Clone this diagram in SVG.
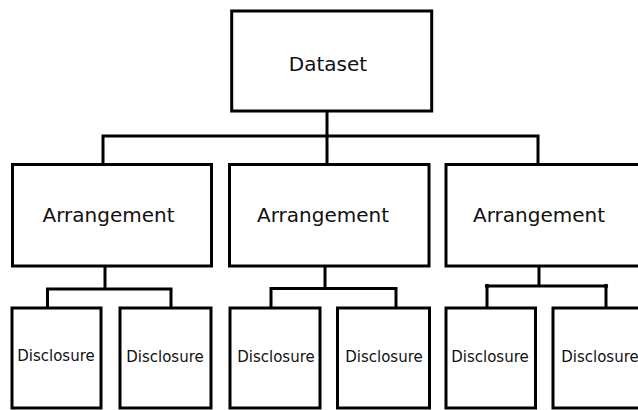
<svg xmlns="http://www.w3.org/2000/svg" width="638" height="410" viewBox="0 0 638 410">
<style>
.box{fill:#fff;stroke:#000;stroke-width:3}
.con{fill:none;stroke:#000;stroke-width:3}
.big{font-family:"DejaVu Sans",sans-serif;font-size:20px;fill:#111;text-anchor:middle}
.small{font-family:"DejaVu Sans",sans-serif;font-size:15px;fill:#111;text-anchor:middle}
</style>
<rect width="638" height="410" fill="#fff"/>
<g id="connectors">
<path class="con" d="M327 111V136M103 164.5V136H538V164.5M327 136V164.5"/>
<path class="con" d="M105 266V289M47.5 308V289H171V308"/>
<path class="con" d="M325 266V288.5M271 308V288.5H396V308"/>
<path class="con" d="M539 266V286M487 308V286H606V308"/>
<circle cx="487" cy="286" r="2.2"/>
<circle cx="606" cy="286" r="2.2"/>
</g>
<g id="dataset">
<rect class="box" x="231.7" y="11" width="200" height="100"/>
<text class="big" x="328" y="71">Dataset</text>
</g>
<g id="arrangement1">
<rect class="box" x="12.5" y="164.5" width="199" height="101.5"/>
<text class="big" x="108.5" y="222">Arrangement</text>
</g>
<g id="arrangement2">
<rect class="box" x="229.5" y="164.5" width="199.5" height="101.5"/>
<text class="big" x="323" y="222">Arrangement</text>
</g>
<g id="arrangement3">
<rect class="box" x="446" y="164.5" width="200" height="101.5"/>
<text class="big" x="539" y="222">Arrangement</text>
</g>
<g id="disclosure1">
<rect class="box" x="12" y="308" width="89" height="100"/>
<text class="small" x="56" y="361">Disclosure</text>
</g>
<g id="disclosure2">
<rect class="box" x="120" y="308" width="91" height="100"/>
<text class="small" x="165" y="362">Disclosure</text>
</g>
<g id="disclosure3">
<rect class="box" x="230" y="308" width="90" height="100"/>
<text class="small" x="276" y="362">Disclosure</text>
</g>
<g id="disclosure4">
<rect class="box" x="337.5" y="308" width="92" height="100"/>
<text class="small" x="384" y="362">Disclosure</text>
</g>
<g id="disclosure5">
<rect class="box" x="446" y="308" width="89.5" height="100"/>
<text class="small" x="490" y="362">Disclosure</text>
</g>
<g id="disclosure6">
<rect class="box" x="553" y="308" width="92" height="100"/>
<text class="small" x="600" y="362">Disclosure</text>
</g>
</svg>
